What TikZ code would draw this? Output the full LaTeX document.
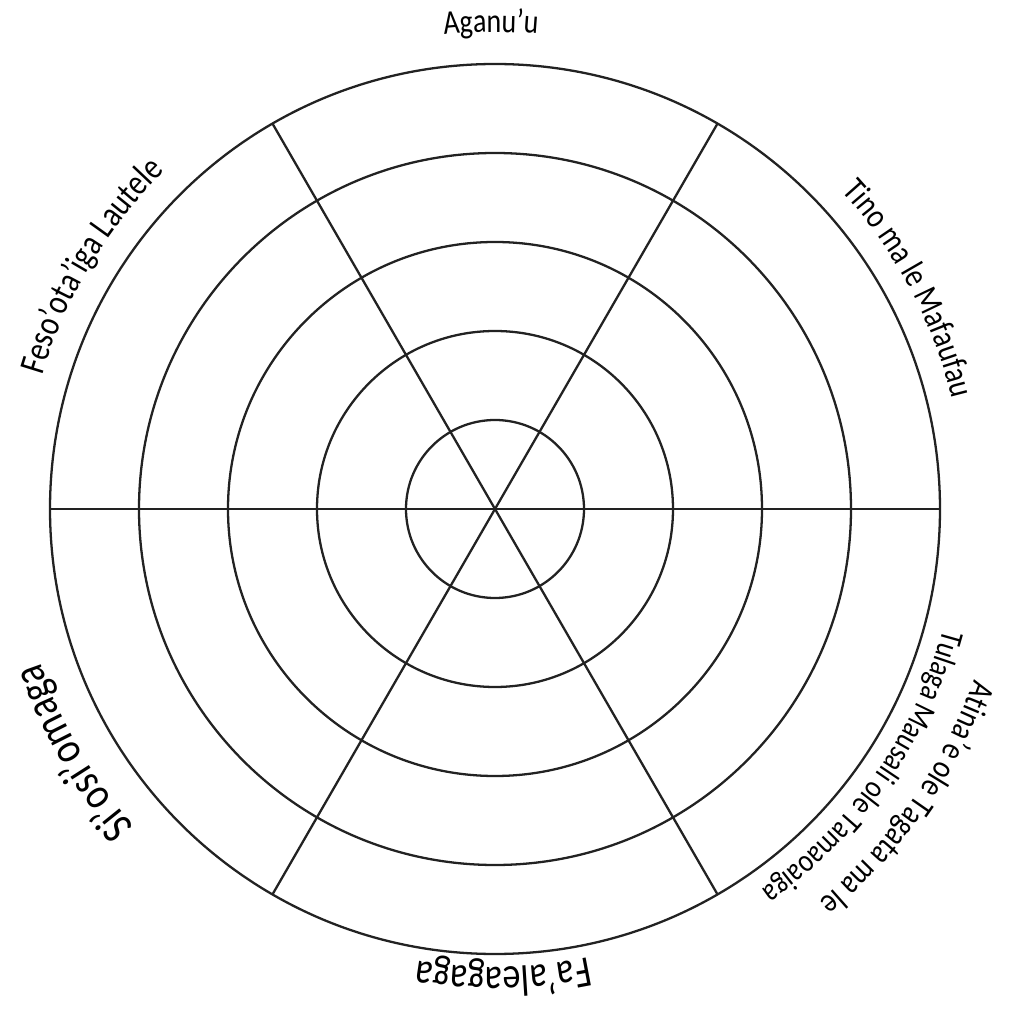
\documentclass[tikz,border=0pt]{standalone}
\usepackage{fontspec}
\setmainfont{Carlito}[FakeStretch=0.82]
\usetikzlibrary{decorations.text}
\definecolor{pline}{HTML}{222222}
\newcommand{\lblfont}[1]{\fontsize{#1}{#1}\selectfont}
\tikzset{
  % wheel lines
  ring/.style  = {draw=pline, line width=0.65pt},
  spoke/.style = {draw=pline, line width=0.65pt},
  % label bent round the rim, read clockwise; #1 = size in pt
  rim/.style 2 args = {decorate, decoration={text along path, text align=center,
                  text={|\lblfont{#1}|#2}}},
}

\begin{document}
\begin{tikzpicture}[x=0.01cm,y=0.01cm]
\useasboundingbox (0,0) rectangle (1011,1011);
\begin{scope}[shift={(495,502)}]
% rings
\foreach \r in {89,178,267,356,445} {\draw[ring] (0,0) circle[radius=\r];}
% spokes
\foreach \a in {0,60,120} {\draw[spoke] (\a:445) -- (\a+180:445);}
% labels
\path[rim={9.7}{Aganu'u}] (130.5:477) arc[start angle=130.5, end angle=50.5, radius=477];
\path[rim={9.8}{Tino ma le Mafaufau}] (73:470) arc[start angle=73, end angle=-17, radius=470];
\path[rim={9.7}{Atina'e ole Tagata ma le}] (10:509) arc[start angle=10, end angle=-80, radius=509];
\path[rim={9.2}{Tulaga Mausali ole Tamaoaiga}] (10:464) arc[start angle=10, end angle=-80, radius=464];
\path[rim={12.5}{Fa'aleagaga}] (-49:458) arc[start angle=-49, end angle=-129, radius=458];
\path[rim={13}{Si'osi'omaga}] (-110:480) arc[start angle=-110, end angle=-190, radius=480];
\path[rim={10.3}{Feso'ota'iga Lautele}] (194:472) arc[start angle=194, end angle=104, radius=472];
\end{scope}
\end{tikzpicture}
\end{document}
